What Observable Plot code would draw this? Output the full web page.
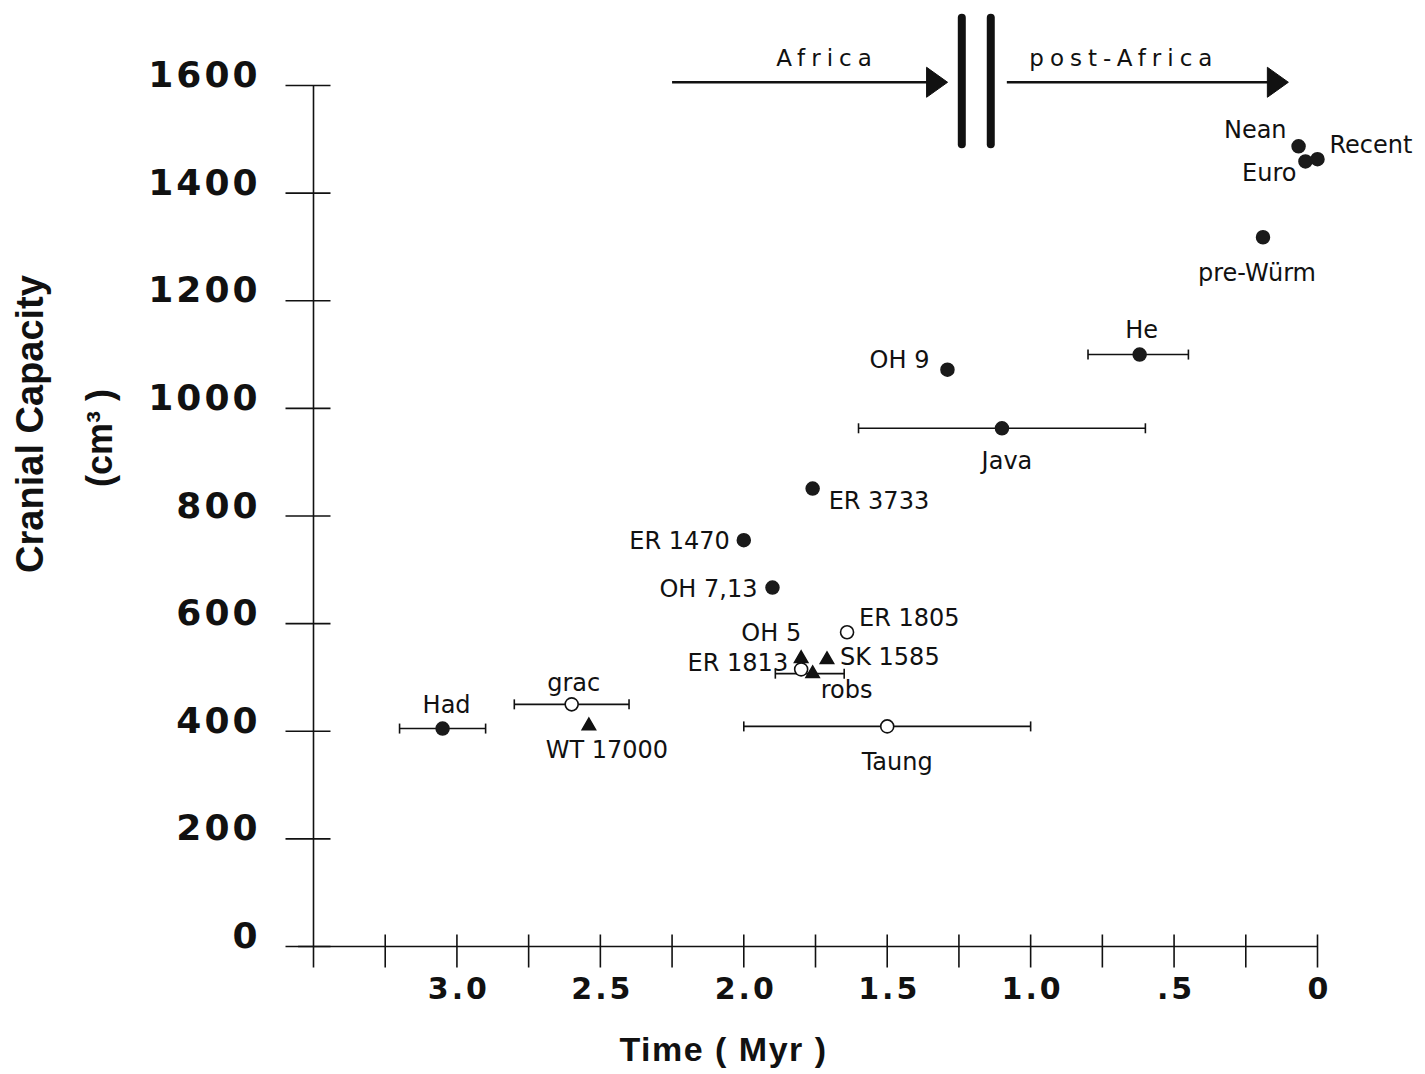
<!DOCTYPE html>
<html>
<head>
<meta charset="utf-8">
<script src="https://cdn.jsdelivr.net/npm/d3@7"></script>
<script src="https://cdn.jsdelivr.net/npm/@observablehq/plot@0.6"></script>
<style>
  body { margin: 0; background: #fff; }
  #chart svg { display: block; }
</style>
</head>
<body>
<div id="chart"></div>
<script>
// ---- data ----
const specimens = ["Had", "grac", "WT 17000", "ER 1470", "OH 7,13", "ER 3733", "OH 9", "Java", "He",
  "pre-Würm", "Nean", "Euro", "Recent", "ER 1805", "OH 5", "SK 1585", "ER 1813", "robs", "Taung"];
const timeMyr = [3.05, 2.60, 2.54, 2.00, 1.90, 1.76, 1.29, 1.10, 0.62,
  0.19, 0.066, 0.042, 0.0, 1.64, 1.80, 1.71, 1.80, 1.76, 1.50];
const capacity = [405, 450, 410, 755, 667, 851, 1072, 963, 1100,
  1318, 1487, 1459, 1463, 584, 535, 533, 515, 507, 409];
const kind = ["filled", "open", "triangle", "filled", "filled", "filled", "filled", "filled", "filled",
  "filled", "filled", "filled", "filled", "open", "triangle", "triangle", "open", "triangle", "open"];
const rangeOld = [3.2, 2.8, null, null, null, null, null, 1.6, 0.8,
  null, null, null, null, null, null, null, null, 1.89, 2.0];
const rangeYoung = [2.9, 2.4, null, null, null, null, null, 0.6, 0.45,
  null, null, null, null, null, null, null, null, 1.65, 1.0];

const yTicks = [0, 200, 400, 600, 800, 1000, 1200, 1400, 1600];
const xTickMarks = [3.25, 3.0, 2.75, 2.5, 2.25, 2.0, 1.75, 1.5, 1.25, 1.0, 0.75, 0.5, 0.25, 0];
const xTickValues = [3.0, 2.5, 2.0, 1.5, 1.0, 0.5, 0];
const xTickLabels = ["3.0", "2.5", "2.0", "1.5", "1.0", ".5", "0"];

// annotation: Africa / post-Africa arrows
const eraLabels = ["Africa", "post-Africa"];
const eraFrom = [2.25, 1.083];
const eraTo = [1.30, 0.112];
const eraLabelAt = [1.71, 0.675];
const eraArrowLevel = 1606;
const eraLabelLevel = 1650;
const dividerAt = [1.24, 1.139];
const dividerSpan = [1490, 1725];

// ---- label placement (style) ----
const labelPlace = {
  "Had": ["middle", 4, -23],
  "grac": ["middle", 2, -21],
  "WT 17000": ["middle", 18, 24],
  "ER 1470": ["end", -14, 1],
  "OH 7,13": ["end", -15, 2],
  "ER 3733": ["start", 16, 13],
  "OH 9": ["end", -18, -9],
  "Java": ["middle", 5, 33],
  "He": ["middle", 2, -24],
  "pre-Würm": ["middle", -6, 36],
  "Nean": ["end", -12, -16],
  "Euro": ["end", -9, 12],
  "Recent": ["start", 12, -14],
  "ER 1805": ["start", 12, -14],
  "OH 5": ["end", 0, -25],
  "SK 1585": ["start", 13, -2],
  "ER 1813": ["end", -13, -6],
  "robs": ["start", 8, 17],
  "Taung": ["middle", 10, 36]
};

// ---- build tables ----
const pts = specimens.map((name, i) => ({name, t: timeMyr[i], v: capacity[i], kind: kind[i]}));
const bars = pts.map((d, i) => ({...d, lo: rangeYoung[i], hi: rangeOld[i]})).filter(d => d.lo != null);
const caps = bars.flatMap(d => [{t: d.lo, v: d.v}, {t: d.hi, v: d.v}]);
const eras = eraLabels.map((label, i) => ({label, from: eraFrom[i], to: eraTo[i], at: eraLabelAt[i]}));

// custom symbols
const hTick = {draw(ctx) { ctx.moveTo(-28, 0); ctx.lineTo(17, 0); }};
const vTick = {draw(ctx) { ctx.moveTo(0, -12); ctx.lineTo(0, 21); }};
const capSym = {draw(ctx) { ctx.moveTo(0, -5); ctx.lineTo(0, 5); }};
const headSym = {draw(ctx) { ctx.moveTo(3, 0); ctx.lineTo(-18, -15); ctx.lineTo(-18, 15); ctx.closePath(); }};

const labelFont = "DejaVu Sans";

const labelMarks = pts.map(d => {
  const [anchor, dx, dy] = labelPlace[d.name];
  return Plot.text([d], {x: "t", y: "v", text: "name", textAnchor: anchor, dx, dy,
    fontSize: 24, fontFamily: labelFont, fill: "#111"});
});

const chart = Plot.plot({
  width: 1425,
  height: 1074,
  marginLeft: 313,
  marginRight: 108,
  marginTop: 85,
  marginBottom: 128,
  style: {background: "#fff", fontFamily: labelFont, color: "#111"},
  x: {domain: [3.5, 0], axis: null},
  y: {domain: [0, 1600], axis: null},
  marks: [
    // axes lines
    Plot.ruleX([3.5], {y1: -40, y2: 1600, stroke: "#111", strokeWidth: 1.6}),
    Plot.ruleY([0], {x1: 3.552, x2: 0, stroke: "#111", strokeWidth: 1.6}),
    // tick marks
    Plot.dot(yTicks, {x: () => 3.5, y: d => d, symbol: hTick, fill: "none", stroke: "#111", strokeWidth: 1.6}),
    Plot.dot(xTickMarks, {x: d => d, y: () => 0, symbol: vTick, fill: "none", stroke: "#111", strokeWidth: 1.6}),
    // tick labels
    Plot.text(yTicks, {x: () => 3.5, y: d => d, text: d => String(d), textAnchor: "end", dx: -53, dy: -10,
      fontSize: 36, fontWeight: "bold", fontFamily: "DejaVu Sans", fill: "#111", ariaDescription: "y-tick-label"}),
    Plot.text(xTickValues, {x: d => d, y: () => 0, text: (d, i) => xTickLabels[i], textAnchor: "middle", dx: 2, dy: 43,
      fontSize: 30, fontWeight: "bold", fontFamily: "DejaVu Sans", fill: "#111", ariaDescription: "x-tick-label"}),
    // axis titles
    Plot.text(["Cranial Capacity"], {frameAnchor: "left", textAnchor: "middle", lineAnchor: "middle",
      dx: -283, dy: -92, rotate: -90,
      fontSize: 38, fontWeight: "bold", fontFamily: "Liberation Sans", fill: "#111"}),
    Plot.text(["(cm³ )"], {frameAnchor: "left", textAnchor: "middle", lineAnchor: "middle",
      dx: -213, dy: -78, rotate: -90,
      fontSize: 36, fontWeight: "bold", fontFamily: "Liberation Sans", fill: "#111"}),
    Plot.text(["Time ( Myr )"], {frameAnchor: "bottom", textAnchor: "middle", lineAnchor: "middle",
      dx: -92, dy: 104,
      fontSize: 34, fontWeight: "bold", fontFamily: "Liberation Sans", fill: "#111", ariaDescription: "x-title"}),
    // era arrows
    Plot.link(eras, {x1: "from", x2: "to", y1: () => eraArrowLevel, y2: () => eraArrowLevel,
      stroke: "#111", strokeWidth: 2.5}),
    Plot.dot(eras, {x: "to", y: () => eraArrowLevel, symbol: headSym, fill: "#111", stroke: "#111", strokeWidth: 1}),
    Plot.text(eras, {x: "at", y: () => eraLabelLevel, text: "label", fontSize: 23, fontFamily: labelFont,
      fill: "#111", ariaDescription: "era-label"}),
    Plot.ruleX(dividerAt, {y1: dividerSpan[0], y2: dividerSpan[1], stroke: "#111", strokeWidth: 8,
      strokeLinecap: "round"}),
    // error bars
    Plot.link(bars, {x1: "hi", x2: "lo", y1: "v", y2: "v", stroke: "#111", strokeWidth: 1.6}),
    Plot.dot(caps, {x: "t", y: "v", symbol: capSym, fill: "none", stroke: "#111", strokeWidth: 1.6}),
    // points
    Plot.dot(pts.filter(d => d.kind === "filled"), {x: "t", y: "v", r: 6.5, fill: "#1a1a1a", stroke: "#1a1a1a"}),
    Plot.dot(pts.filter(d => d.kind === "open"), {x: "t", y: "v", r: 6.5, fill: "#fff", stroke: "#111", strokeWidth: 1.6}),
    Plot.dot(pts.filter(d => d.kind === "triangle"), {x: "t", y: "v", r: 5, symbol: "triangle", fill: "#111", stroke: "#111"}),
    ...labelMarks
  ]
});

document.getElementById("chart").appendChild(chart);
const svg = d3.select(chart);
svg.selectAll('[aria-description="y-tick-label"] text').style("letter-spacing", "3px");
svg.selectAll('[aria-description="x-tick-label"] text').style("letter-spacing", "3px");
svg.selectAll('[aria-description="era-label"] text').style("letter-spacing", "6px");
svg.selectAll('[aria-description="x-title"] text').style("letter-spacing", "1.5px");
</script>
</body>
</html>
